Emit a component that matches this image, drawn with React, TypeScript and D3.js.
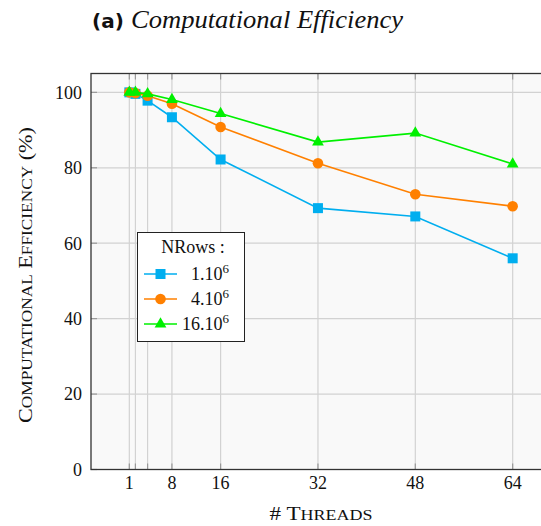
import React from "react";
import * as d3 from "d3";

const threads = [1, 2, 4, 8, 16, 32, 48, 64];
const xTickLabels = [1, 8, 16, 32, 48, 64];
const yTicks = [0, 20, 40, 60, 80, 100];
const rows1 = [100, 99.6, 97.8, 93.4, 82.2, 69.3, 67.1, 56.0];
const rows4 = [100, 99.8, 99.1, 97.0, 90.8, 81.2, 73.0, 69.8];
const rows16 = [100, 100, 99.6, 98.1, 94.4, 86.8, 89.2, 81.0];
const seriesNames = ["1.10", "4.10", "16.10"];
const seriesColors = ["#00AEEF", "#FF8000", "#00F000"];
const seriesMarkers = ["square", "circle", "triangle"];

const W = 541;
const H = 526;
const left = 91, right = 551, top = 73.5, bottom = 469.5;

const x = d3.scaleLinear().domain([-5.3, 70.3]).range([left, right]);
const y = d3.scaleLinear().domain([0, 105]).range([bottom, top]);

function Marker({ kind, cx, cy, color }: { kind: string; cx: number; cy: number; color: string }) {
  if (kind === "square") return <rect x={cx - 5} y={cy - 5} width={10} height={10} fill={color} />;
  if (kind === "circle") return <circle cx={cx} cy={cy} r={5.3} fill={color} />;
  const p = d3.symbol().type(d3.symbolTriangle).size(60)();
  return <path d={p || ""} transform={`translate(${cx},${cy})`} fill={color} />;
}

function SmallCaps({ words, big, small }: { words: string[]; big: number; small: number }) {
  const out: React.ReactNode[] = [];
  words.forEach((w, i) => {
    const first = w[0];
    const rest = w.slice(1);
    const prefix = i > 0 ? " " : "";
    if (/[a-zA-Z]/.test(first)) {
      out.push(
        <tspan key={"f" + i} fontSize={big}>
          {prefix + first}
        </tspan>
      );
      out.push(
        <tspan key={"r" + i} fontSize={small}>
          {rest.toUpperCase()}
        </tspan>
      );
    } else {
      out.push(
        <tspan key={"f" + i} fontSize={big}>
          {prefix + w}
        </tspan>
      );
    }
  });
  return <>{out}</>;
}

export default function App() {
  const series = [rows1, rows4, rows16];
  const line = d3
    .line<number>()
    .x((_, i) => x(threads[i]))
    .y((v) => y(v));
  const serif = "'Liberation Serif', 'DejaVu Serif', serif";
  return (
    <svg
      width={W}
      height={H}
      style={{ position: "absolute", left: 0, top: 0, background: "#fff" }}
    >
      <text x={92} y={28} fontWeight="bold" fontFamily="'DejaVu Sans', sans-serif" fontSize={20} fill="#111">
        (a)
      </text>
      <text
        x={131}
        y={28}
        fontStyle="italic"
        fontFamily={serif}
        fontSize={25}
        fill="#111"
        textLength={272}
        lengthAdjust="spacingAndGlyphs"
      >
        Computational Efficiency
      </text>
      <rect x={left} y={top} width={right - left} height={bottom - top} fill="#f9f9f9" />
      {threads.map((t) => (
        <g key={"vx" + t}>
          <line x1={x(t)} x2={x(t)} y1={top} y2={bottom} stroke="#d2d2d2" strokeWidth={1.2} />
          <line x1={x(t)} x2={x(t)} y1={top} y2={top + 6} stroke="#999" strokeWidth={1.2} />
          <line x1={x(t)} x2={x(t)} y1={bottom - 6} y2={bottom} stroke="#999" strokeWidth={1.2} />
        </g>
      ))}
      {yTicks.map((t) => (
        <g key={"hy" + t}>
          <line x1={left} x2={right} y1={y(t)} y2={y(t)} stroke="#d2d2d2" strokeWidth={1.2} />
          <line x1={left} x2={left + 6} y1={y(t)} y2={y(t)} stroke="#999" strokeWidth={1.2} />
        </g>
      ))}
      <rect
        x={left}
        y={top}
        width={right - left}
        height={bottom - top}
        fill="none"
        stroke="#333"
        strokeWidth={1.3}
      />
      {yTicks.map((t) => (
        <text
          key={"yl" + t}
          x={left - 9}
          y={y(t)}
          dy="0.35em"
          textAnchor="end"
          fontFamily={serif}
          fontSize={18}
          fill="#111"
        >
          {t}
        </text>
      ))}
      {xTickLabels.map((t) => (
        <text
          key={"xl" + t}
          x={x(t)}
          y={489}
          textAnchor="middle"
          fontFamily={serif}
          fontSize={18}
          fill="#111"
        >
          {t}
        </text>
      ))}
      <text
        x={321}
        y={520}
        textAnchor="middle"
        fontFamily={serif}
        fill="#111"
        textLength={103}
        lengthAdjust="spacingAndGlyphs"
      >
        <SmallCaps words={["#", "Threads"]} big={18} small={14} />
      </text>
      <text
        transform="translate(32,275) rotate(-90)"
        textAnchor="middle"
        fontFamily={serif}
        fill="#111"
        textLength={296}
        lengthAdjust="spacingAndGlyphs"
      >
        <SmallCaps words={["Computational", "Efficiency", "(%)"]} big={18} small={14} />
      </text>
      {series.map((s, si) => (
        <g key={"s" + si}>
          <path d={line(s) || ""} fill="none" stroke={seriesColors[si]} strokeWidth={1.6} />
          {s.map((v, i) => (
            <Marker
              key={i}
              kind={seriesMarkers[si]}
              cx={x(threads[i])}
              cy={y(v)}
              color={seriesColors[si]}
            />
          ))}
        </g>
      ))}
      <g>
        <rect x={137.5} y={232.5} width={107} height={109} fill="#fff" stroke="#222" strokeWidth={1} />
        <text x={193} y={253} textAnchor="middle" fontFamily={serif} fontSize={18} fill="#111">
          NRows :
        </text>
        {seriesNames.map((n, i) => {
          const ry = 274 + i * 25;
          return (
            <g key={"lg" + i}>
              <line x1={144} x2={177} y1={ry} y2={ry} stroke={seriesColors[i]} strokeWidth={1.6} />
              <Marker kind={seriesMarkers[i]} cx={160.5} cy={ry} color={seriesColors[i]} />
              <text x={229} y={ry + 6} textAnchor="end" fontFamily={serif} fontSize={18} fill="#111">
                {n}
                <tspan dy={-7} fontSize={13}>6</tspan>
              </text>
            </g>
          );
        })}
      </g>
    </svg>
  );
}
